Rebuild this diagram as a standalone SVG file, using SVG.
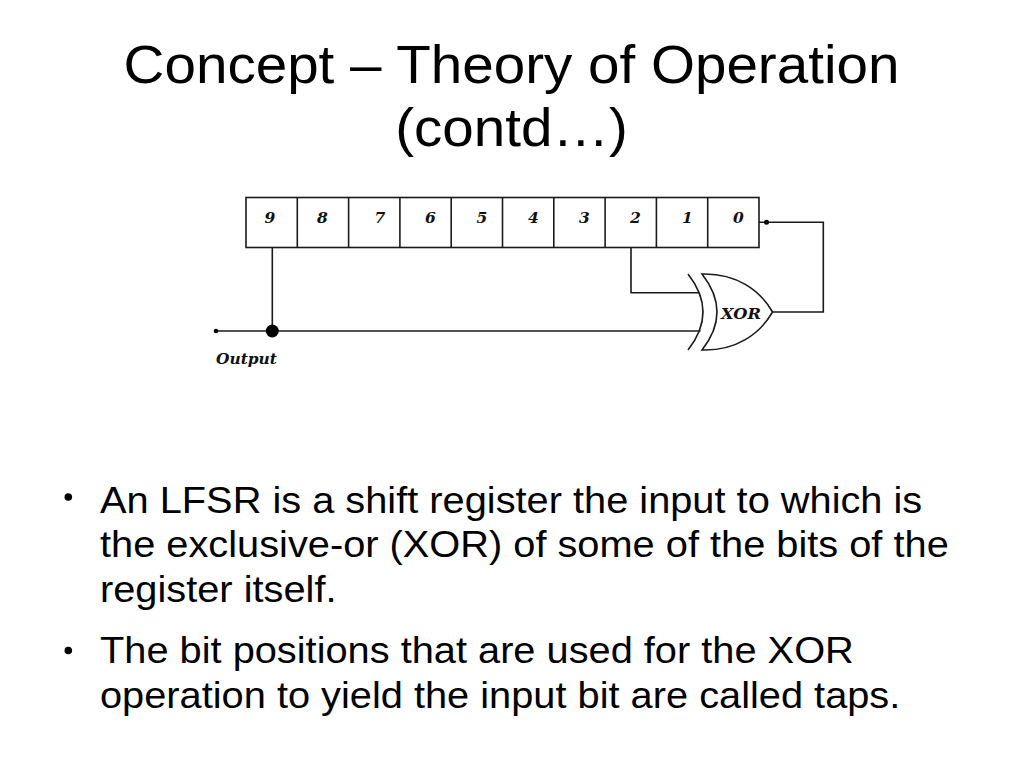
<svg xmlns="http://www.w3.org/2000/svg" width="1024" height="768" viewBox="0 0 1024 768">
<style>
.title{font-family:"Liberation Sans",Arial,sans-serif;font-size:54px;fill:#000;text-anchor:middle}
.body{font-family:"Liberation Sans",Arial,sans-serif;font-size:37px;fill:#000}
.dig{font-family:"DejaVu Serif","Liberation Serif",serif;font-size:15.5px;font-weight:bold;font-style:italic;fill:#111;text-anchor:middle}
.lbl{font-family:"DejaVu Serif","Liberation Serif",serif;font-weight:bold;font-style:italic;fill:#111}
.wire{fill:none;stroke:#1a1a1a;stroke-width:1.6}
.cell{fill:#fff;stroke:#1a1a1a;stroke-width:1.6}
</style>
<rect width="1024" height="768" fill="#fff"/>
<g id="title" transform="translate(511.5,0) scale(1.048,1)">
<text class="title" x="0" y="83">Concept – Theory of Operation</text>
<text class="title" x="0" y="146">(contd…)</text>
</g>
<g id="register">
<rect class="cell" x="246" y="197.5" width="513" height="50"/>
<g class="wire">
<line x1="297.3" y1="197.5" x2="297.3" y2="247.5"/>
<line x1="348.6" y1="197.5" x2="348.6" y2="247.5"/>
<line x1="399.9" y1="197.5" x2="399.9" y2="247.5"/>
<line x1="451.2" y1="197.5" x2="451.2" y2="247.5"/>
<line x1="502.5" y1="197.5" x2="502.5" y2="247.5"/>
<line x1="553.8" y1="197.5" x2="553.8" y2="247.5"/>
<line x1="605.1" y1="197.5" x2="605.1" y2="247.5"/>
<line x1="656.4" y1="197.5" x2="656.4" y2="247.5"/>
<line x1="707.7" y1="197.5" x2="707.7" y2="247.5"/>
</g>
<text class="dig" x="270" y="223">9</text>
<text class="dig" x="322.5" y="223">8</text>
<text class="dig" x="380" y="223">7</text>
<text class="dig" x="430.5" y="223">6</text>
<text class="dig" x="482" y="223">5</text>
<text class="dig" x="533.5" y="223">4</text>
<text class="dig" x="584.5" y="223">3</text>
<text class="dig" x="635.5" y="223">2</text>
<text class="dig" x="687.5" y="223">1</text>
<text class="dig" x="738.5" y="223">0</text>
</g>
<g id="xor">
<path class="wire" d="M688,274 Q718,312 688,350"/>
<path class="wire" d="M702,274 C736,273 760,290 772.5,312 C760,334 736,351 702,350 Q732,312 702,274 Z" fill="#fff"/>
<text class="lbl" x="721" y="318.5" font-size="15" textLength="40" lengthAdjust="spacingAndGlyphs">XOR</text>
</g>
<g id="connectors">
<polyline class="wire" points="272.3,247.5 272.3,331"/>
<polyline class="wire" points="631,247.5 631,292.7 699,292.7"/>
<polyline class="wire" points="216,331 700.5,331"/>
<polyline class="wire" points="772.5,312 823.3,312 823.3,222.3 759,222.3"/>
<circle cx="272.3" cy="331" r="6.5" fill="#000"/>
<circle cx="216" cy="331" r="2.3" fill="#000"/>
<circle cx="766.5" cy="222.3" r="2.5" fill="#000"/>
</g>
<g id="output-label">
<text class="lbl" x="216" y="363.5" font-size="15" textLength="61" lengthAdjust="spacingAndGlyphs">Output</text>
</g>
<g id="bullets">
<circle cx="68.3" cy="497" r="3.8" fill="#000"/>
<circle cx="68.3" cy="650.5" r="3.8" fill="#000"/>
<g transform="translate(100,0) scale(1.075,1)">
<text class="body" x="0" y="513">An LFSR is a shift register the input to which is</text>
<text class="body" x="0" y="557.3">the exclusive-or (XOR) of some of the bits of the</text>
<text class="body" x="0" y="601.7">register itself.</text>
<text class="body" x="0" y="663.3">The bit positions that are used for the XOR</text>
<text class="body" x="0" y="708">operation to yield the input bit are called taps.</text>
</g>
</g>
</svg>
